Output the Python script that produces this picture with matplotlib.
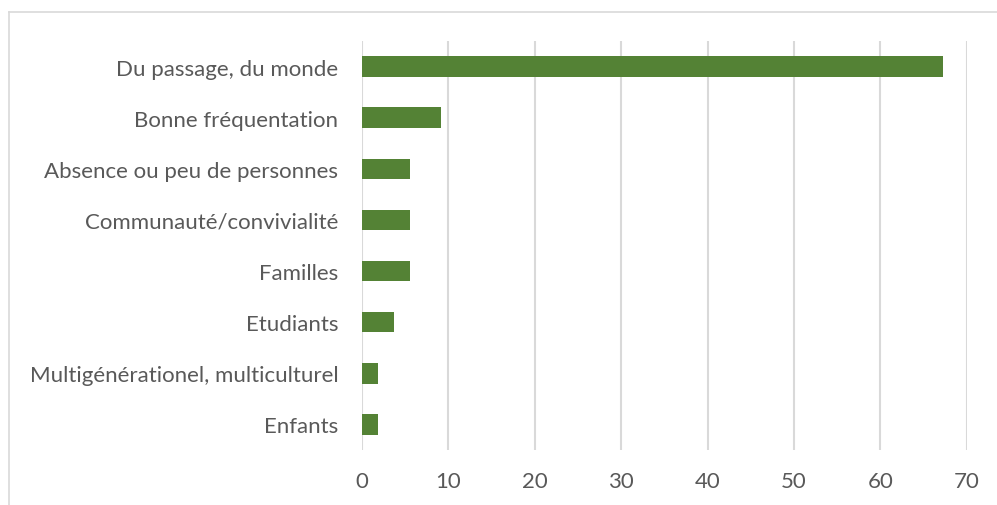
import matplotlib
matplotlib.use("Agg")
import matplotlib.pyplot as plt
from matplotlib.lines import Line2D

categories = ["Du passage, du monde", "Bonne fréquentation", "Absence ou peu de personnes",
              "Communauté/convivialité", "Familles", "Etudiants",
              "Multigénérationel, multiculturel", "Enfants"]
values = [67.3, 9.2, 5.6, 5.6, 5.6, 3.7, 1.9, 1.9]
xticks = [0, 10, 20, 30, 40, 50, 60, 70]

W, H = 997, 506
plt.rcParams['font.family'] = ['Lato', 'DejaVu Sans']

fig = plt.figure(figsize=(W / 100, H / 100), dpi=100)
ax = fig.add_axes([362 / W, (H - 451) / H, (966.7 - 362) / W, (451 - 42) / H])

pos = list(range(len(categories)))[::-1]
ax.barh(pos, values, height=0.4, color="#548235", zorder=3)
ax.set_ylim(-0.5, len(categories) - 0.5)
ax.set_xlim(0, 70)
ax.set_xticks(xticks)
ax.set_yticks(pos)
ax.set_yticklabels(categories)
ax.tick_params(length=0, labelsize=16, colors="#595959")
ax.tick_params(axis="y", pad=17)
ax.tick_params(axis="x", pad=15)
ax.grid(axis="x", color="#d9d9d9", linewidth=1.5, zorder=0)
for s in ax.spines.values():
    s.set_visible(False)

# chart area border (cut off at right and bottom)
fig.add_artist(Line2D([9 / W, 1], [(H - 13) / H, (H - 13) / H], color="#d9d9d9", linewidth=1.2,
                      transform=fig.transFigure))
fig.add_artist(Line2D([9 / W, 9 / W], [0, (H - 13) / H], color="#d9d9d9", linewidth=1.2,
                      transform=fig.transFigure))

fig.savefig("out.png", dpi=100)
